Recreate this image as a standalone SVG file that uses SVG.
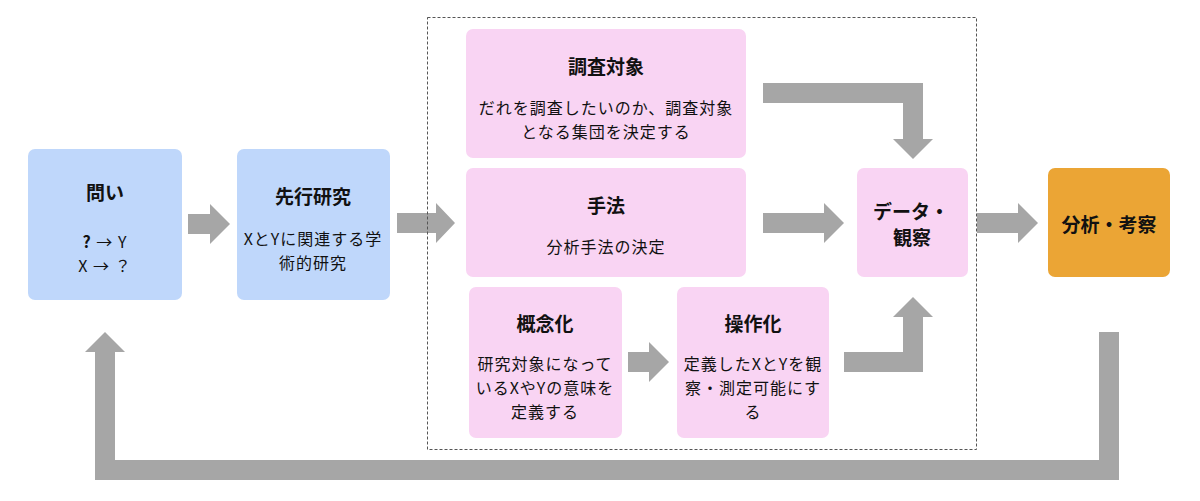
<svg xmlns="http://www.w3.org/2000/svg" width="1200" height="501" viewBox="0 0 1200 501">
<style>
text{font-family:"Noto Sans CJK JP","Noto Sans",sans-serif;fill:#111;text-anchor:middle;dominant-baseline:central}
.t{font-size:19px;font-weight:bold}
.b{font-size:16px;letter-spacing:1px}
.blue{fill:#bfd7fb}
.pink{fill:#f9d4f3}
.orange{fill:#eba535}
.arr{fill:#a6a6a6}
</style>
<rect width="1200" height="501" fill="#fff"/>
<g id="connectors">
<polygon class="arr" points="188,214 210,214 210,204 230,224 210,244 210,234 188,234"/>
<polygon class="arr" points="397,213 436,213 436,203 455,223 436,243 436,233 397,233"/>
<polygon class="arr" points="628,352 649,352 649,342 669,362 649,382 649,372 628,372"/>
<polygon class="arr" points="763,213 824,213 824,203 844,223 824,243 824,233 763,233"/>
<polygon class="arr" points="977,213 1018,213 1018,203 1038,223 1018,243 1018,233 977,233"/>
<polygon class="arr" points="763,83 923,83 923,139 933,139 913,159 893,139 903,139 903,103 763,103"/>
<polygon class="arr" points="844,352 903,352 903,317 893,317 913,297 933,317 923,317 923,372 844,372"/>
<polygon class="arr" points="1099,332 1119,332 1119,480 95,480 95,352 85,352 105,332 125,352 115,352 115,460 1099,460"/>
</g>
<rect id="group-box" x="427.5" y="17.5" width="549" height="432" fill="none" stroke="#555" stroke-width="1" stroke-dasharray="3,2"/>
<g id="toi">
<rect class="blue" x="28" y="149" width="154" height="151" rx="7"/>
<text class="t" x="105" y="191">問い</text>
<text class="b" x="105" y="241"><tspan font-weight="bold">?</tspan> → Y</text>
<text class="b" x="105" y="265">X → ？</text>
</g>
<g id="senko">
<rect class="blue" x="237" y="149" width="153" height="151" rx="7"/>
<text class="t" x="313" y="195">先行研究</text>
<text class="b" x="313" y="238">XとYに関連する学</text>
<text class="b" x="313" y="262">術的研究</text>
</g>
<g id="chosa">
<rect class="pink" x="466" y="29" width="280" height="129" rx="7"/>
<text class="t" x="606" y="65">調査対象</text>
<text class="b" x="606" y="107">だれを調査したいのか、調査対象</text>
<text class="b" x="606" y="131">となる集団を決定する</text>
</g>
<g id="shuho">
<rect class="pink" x="466" y="168" width="280" height="109" rx="7"/>
<text class="t" x="606" y="204">手法</text>
<text class="b" x="606" y="246">分析手法の決定</text>
</g>
<g id="gainen">
<rect class="pink" x="469" y="287" width="153" height="151" rx="7"/>
<text class="t" x="545" y="322">概念化</text>
<text class="b" x="545" y="363">研究対象になって</text>
<text class="b" x="545" y="387">いるXやYの意味を</text>
<text class="b" x="545" y="411">定義する</text>
</g>
<g id="sosa">
<rect class="pink" x="677" y="287" width="152" height="151" rx="7"/>
<text class="t" x="753" y="322">操作化</text>
<text class="b" x="753" y="363">定義したXとYを観</text>
<text class="b" x="753" y="387">察・測定可能にす</text>
<text class="b" x="753" y="411">る</text>
</g>
<g id="data">
<rect class="pink" x="857" y="168" width="111" height="109" rx="7"/>
<text class="t" x="911" y="210">データ・</text>
<text class="t" x="912" y="236">観察</text>
</g>
<g id="bunseki">
<rect class="orange" x="1048" y="168" width="122" height="109" rx="7"/>
<text class="t" x="1109" y="223">分析・考察</text>
</g>
</svg>
